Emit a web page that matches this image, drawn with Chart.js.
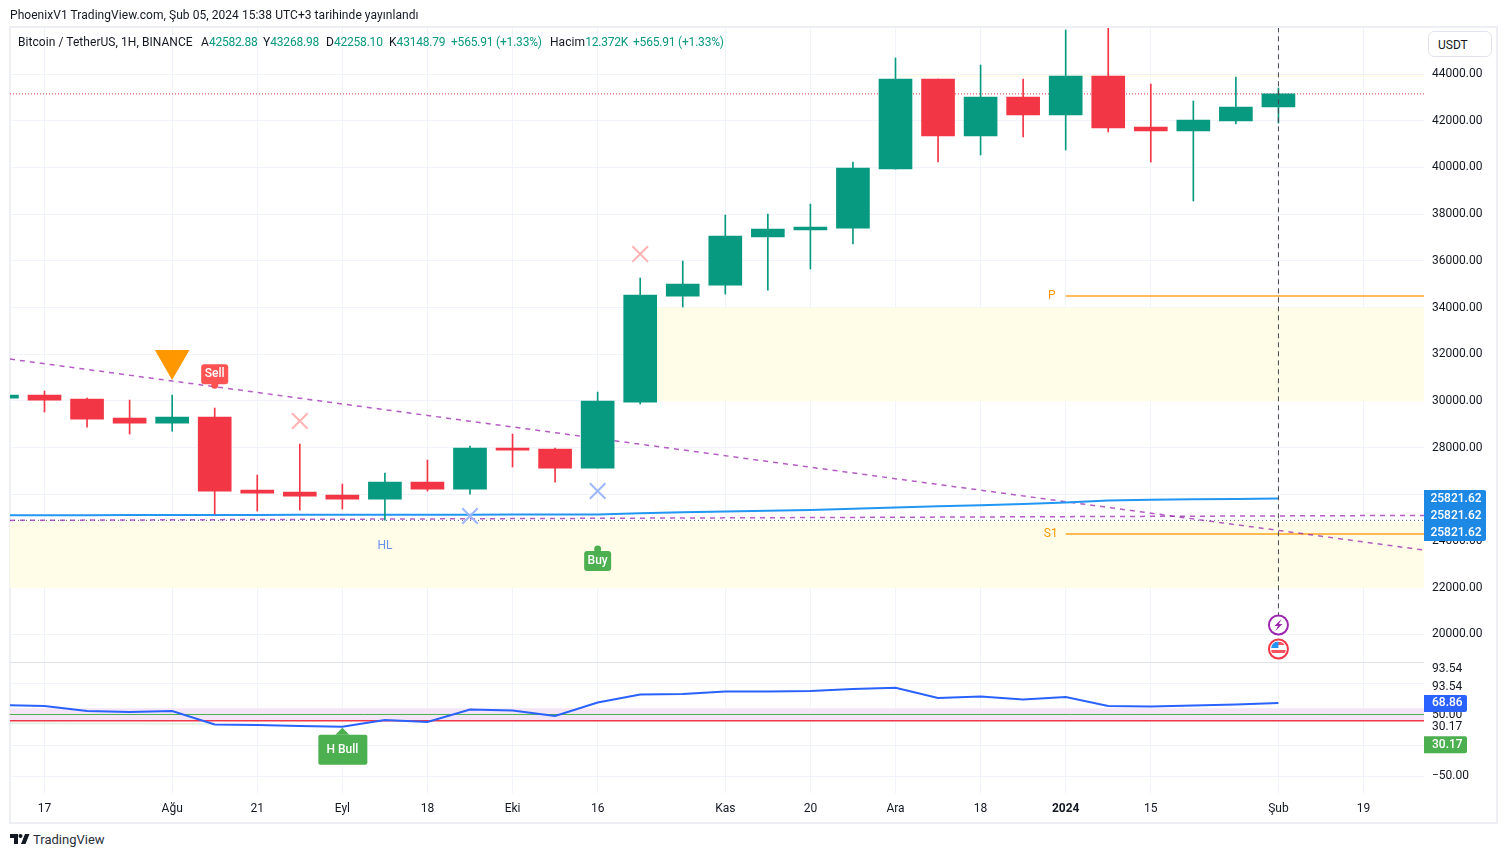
<!DOCTYPE html>
<html>
<head>
<meta charset="utf-8">
<title>BTCUSDT</title>
<script src="https://cdn.jsdelivr.net/npm/chart.js@4/dist/chart.umd.min.js"></script>
<style>
  html, body { margin: 0; padding: 0; background: #fff; width: 1506px; height: 857px; overflow: hidden; }
  body { position: relative; font-family: Roboto, sans-serif; font-size: 12px; color: #131722; }
  .abs { position: absolute; white-space: nowrap; z-index: 2; }
  #frame { left: 9px; top: 26px; width: 1485px; height: 794px; border: 2px solid #eeeff5; z-index: 0; }
  #published { left: 10px; top: 8px; letter-spacing: 0.055px; }
  .legend { top: 35px; font-size: 12px; letter-spacing: 0.06px; }
  .up { color: #089981; letter-spacing: -0.2px; }
  #unit { left: 1428px; top: 31px; width: 64px; height: 26px; line-height: 26px; border: 1px solid #e0e3eb; border-radius: 6px; box-sizing: border-box; padding-left: 9px; background: #fff; }
  #brand { left: 33px; top: 832px; font-size: 13px; color: #2a2e39; }
  #logo { left: 10px; top: 834px; }
  canvas { position: absolute; }
</style>
</head>
<body>
<div class="abs" id="frame"></div>
<div class="abs" id="published">PhoenixV1 TradingView.com, Şub 05, 2024 15:38 UTC+3 tarihinde yayınlandı</div>
<div class="abs legend" style="left:18px">Bitcoin / TetherUS, 1H, BINANCE</div>
<div class="abs legend" style="left:201px">A<span class="up">42582.88</span></div>
<div class="abs legend" style="left:263px">Y<span class="up">43268.98</span></div>
<div class="abs legend" style="left:326px">D<span class="up">42258.10</span></div>
<div class="abs legend" style="left:389px">K<span class="up">43148.79</span></div>
<div class="abs legend up" style="left:451px">+565.91 (+1.33%)</div>
<div class="abs legend" style="left:550px">Hacim<span class="up">12.372K</span></div>
<div class="abs legend up" style="left:633px">+565.91 (+1.33%)</div>
<!-- canvas is 20px bigger on left/top/bottom: the big triangle marker makes Chart.js reserve that overflow -->
<div style="position:absolute;left:-10px;top:8px;width:1506px;height:674px"><canvas id="price"></canvas></div>
<div style="position:absolute;left:10px;top:662px;width:1414px;height:1px;background:#e0e3eb"></div>
<div style="position:absolute;left:10px;top:663px;width:1486px;height:159px"><canvas id="rsi"></canvas></div>
<div class="abs" id="unit">USDT</div>
<svg class="abs" id="logo" width="20" height="11" viewBox="0 0 20 11"><path d="M0 0h8v10H4V4H0z" fill="#131722"/><circle cx="10.5" cy="2" r="2" fill="#131722"/><path d="M15 0h4.5l-4 10H11z" fill="#131722"/></svg>
<div class="abs" id="brand">TradingView</div>

<script>
// bar index of each candle, plot runs from xMin to xMax
const xMin = 0.189;
const xMax = 33.421;

const opens = [30124, 30253, 30081, 29267, 29053, 29310, 26184, 26098, 25970, 25799, 26526, 26227, 27982, 27939, 27126, 29953, 34492, 34963, 37019, 37319, 37404, 39931, 43786, 41345, 43015, 42244, 43914, 41730, 41559, 41987, 42587];
const closes = [30253, 30038, 29225, 29053, 29310, 26141, 26056, 25927, 25799, 26526, 26227, 27982, 27897, 27126, 29996, 34535, 35006, 37062, 37362, 37447, 39974, 43786, 41345, 43015, 42244, 43914, 41687, 41559, 42030, 42587, 43148.79];
const highs = [30253, 30424, 30124, 30038, 30253, 29696, 26826, 28154, 26441, 26912, 27469, 28068, 28582, 27982, 30381, 35263, 35991, 37961, 38004, 38432, 40231, 44685, 43786, 44385, 43786, 45884, 46013, 43572, 42844, 43872, 43400];
const lows = [30124, 29524, 28882, 28582, 28711, 25156, 25284, 25327, 25370, 24899, 26141, 26013, 27169, 26526, 27126, 29867, 34021, 34578, 34749, 35649, 36720, 39931, 40231, 40531, 41302, 40745, 41516, 40231, 38561, 41859, 41900];
const maLine = [25100, 25105, 25110, 25112, 25115, 25118, 25120, 25122, 25125, 25127, 25130, 25132, 25134, 25137, 25140, 25190, 25230, 25270, 25300, 25330, 25380, 25440, 25490, 25530, 25590, 25650, 25740, 25765, 25790, 25805, 25821.62];
const rsiLine = [65.4, 63.8, 55.7, 54.1, 55.7, 33.7, 32.9, 31.3, 30.17, 41.1, 37.8, 58.1, 56.5, 47.6, 69.5, 82.5, 83.3, 87.4, 87.4, 88.2, 91.5, 93.54, 76.8, 79.3, 74.4, 78.5, 63.8, 63, 64.6, 66.3, 68.86];
const rsiFaint = [36, 35.8, 35.5, 35.2, 35, 34.7];

const lastPrice = 43148.79;
const priceTicks = [20000, 22000, 24000, 26000, 28000, 30000, 32000, 34000, 36000, 38000, 40000, 42000, 44000];
const timeTicks = [1, 4, 6, 8, 10, 12, 14, 17, 19, 21, 23, 25, 27, 30, 32];
const timeLabels = ['17', 'Ağu', '21', 'Eyl', '18', 'Eki', '16', 'Kas', '20', 'Ara', '18', '2024', '15', 'Şub', '19'];
const rsiTicks = [100, 50, 0, -50];
const rsiTickLabels = ['', '', '', '−50.00'];

const trendLine = [31794, 23614];
const flatLine = [24886, 25100];
const dottedLevel = 24886;
const supplyZone = [34000, 30000];
const demandZone = [24835, 21987];
const topZone = [43950, 43870];
const pivotP = 34492;
const pivotS1 = 24300;
const sellMark = [5, 30625];
const buyMark = [14, 23830];
const triangleMarks = [[4, 31751]];
const pinkCrosses = [[7, 29142], [15, 36290]];
const blueCrosses = [[11, 25074], [14, 26145]];
const hlMark = [9, 23790];
const priceBoxes = ['25821.62', '25821.62', '25821.62'];
const rsiLabels = ['93.54', '93.54', '50.00', '30.17'];
const rsiLabelValues = [93.54, 93.54, 50, 30.17];
const bullMark = [8, 30.17];
const rsiBlueLabel = '68.86';
const rsiGreenLabel = '30.17';

const GREEN = '#089981';
const RED = '#f23645';
const GRID = '#f0f3fa';
const TEXT = '#131722';
const ZONE = '#fffde7';
const FONT = 'Roboto, sans-serif';

const candleColors = closes.map((c, i) => (c >= opens[i] ? GREEN : RED));
const hline = (y, from = xMin, to = xMax) => [{ x: from, y: y }, { x: to, y: y }];
const lineSet = (data, color, width, dash, order) => ({
  type: 'line', data, borderColor: color, borderWidth: width, borderDash: dash,
  pointRadius: 0, fill: false, tension: 0, order
});
const zoneSet = (data, fill, color) => ({
  type: 'line', data, borderWidth: 0, pointRadius: 0, tension: 0, fill, backgroundColor: color, order: 20
});
const markSet = (points, style, color, radius, rotation, border) => ({
  type: 'scatter',
  data: points.map(p => ({ x: p[0], y: p[1] })),
  pointStyle: style, pointRadius: radius, pointRotation: rotation,
  borderColor: color, backgroundColor: color, borderWidth: border, order: 1
});

function roundBox(ctx, x, y, w, h, r, color) {
  ctx.fillStyle = color;
  ctx.beginPath();
  ctx.roundRect(x, y, w, h, r);
  ctx.fill();
}

function boxLabel(ctx, text, x, y, color) {
  ctx.fillStyle = color;
  ctx.fillText(text, x, y);
}

const priceOverlay = {
  id: 'priceOverlay',
  afterDraw(chart) {
    const { ctx, scales: { x, y }, chartArea } = chart;
    ctx.save();
    ctx.textBaseline = 'middle';
    ctx.textAlign = 'center';

    // Sell flag
    let px = x.getPixelForValue(sellMark[0]);
    let py = y.getPixelForValue(sellMark[1]);
    roundBox(ctx, px - 13.5, py - 22, 27, 20, 3, '#ff5252');
    ctx.beginPath(); ctx.arc(px, py - 1, 3.5, 0, Math.PI * 2); ctx.fill();
    ctx.font = '500 12px ' + FONT;
    boxLabel(ctx, 'Sell', px, py - 12, '#ffffff');

    // Buy flag
    px = x.getPixelForValue(buyMark[0]);
    py = y.getPixelForValue(buyMark[1]);
    roundBox(ctx, px - 13.5, py + 6, 27, 20, 3, '#4caf50');
    ctx.beginPath(); ctx.arc(px, py + 4, 3.5, 0, Math.PI * 2); ctx.fill();
    boxLabel(ctx, 'Buy', px, py + 16, '#ffffff');

    // HL text
    ctx.font = '12px ' + FONT;
    boxLabel(ctx, 'HL', x.getPixelForValue(hlMark[0]), y.getPixelForValue(hlMark[1]), '#6f8fe8');

    // pivot names
    boxLabel(ctx, 'P', x.getPixelForValue(25) - 14, y.getPixelForValue(pivotP), '#ff9800');
    boxLabel(ctx, 'S1', x.getPixelForValue(25) - 15, y.getPixelForValue(pivotS1), '#ff9800');

    // event icons on the last bar
    px = x.getPixelForValue(30);
    const iconY = chartArea.bottom - 37;
    ctx.lineWidth = 2;
    ctx.strokeStyle = '#9c27b0';
    ctx.fillStyle = '#ffffff';
    ctx.beginPath(); ctx.arc(px, iconY, 9.5, 0, Math.PI * 2); ctx.fill(); ctx.stroke();
    ctx.fillStyle = '#9c27b0';
    ctx.beginPath();
    ctx.moveTo(px + 3, iconY - 6); ctx.lineTo(px - 4, iconY + 1); ctx.lineTo(px - 0.5, iconY + 1);
    ctx.lineTo(px - 3, iconY + 6); ctx.lineTo(px + 4, iconY - 1); ctx.lineTo(px + 0.5, iconY - 1);
    ctx.closePath(); ctx.fill();
    const flagY = iconY + 24;
    ctx.strokeStyle = RED;
    ctx.fillStyle = '#ffffff';
    ctx.beginPath(); ctx.arc(px, flagY, 9.5, 0, Math.PI * 2); ctx.fill(); ctx.stroke();
    ctx.save();
    ctx.beginPath(); ctx.arc(px, flagY, 7.5, 0, Math.PI * 2); ctx.clip();
    ctx.fillStyle = '#f7525f';
    ctx.fillRect(px - 8, flagY - 7, 16, 3);
    ctx.fillRect(px - 8, flagY + 1, 16, 3);
    ctx.fillStyle = '#2196f3';
    ctx.fillRect(px - 8, flagY - 8, 8, 7);
    ctx.restore();

    // last value boxes on the axis
    ctx.font = '500 12px ' + FONT;
    const boxLeft = chartArea.right;
    const boxTop = y.getPixelForValue(maLine[30]) - 8.5;
    roundBox(ctx, boxLeft, boxTop, 62, 51, [0, 2, 2, 0], '#1e88e5');
    priceBoxes.forEach((text, i) => {
      boxLabel(ctx, text, boxLeft + 32, boxTop + 8.5 + i * 17, '#ffffff');
    });
    ctx.restore();
  }
};

const rsiOverlay = {
  id: 'rsiOverlay',
  afterDraw(chart) {
    const { ctx, scales: { x, y }, chartArea } = chart;
    ctx.save();
    ctx.textBaseline = 'middle';
    ctx.textAlign = 'left';
    const left = chartArea.right;

    // plain labels moved apart from each other as the axis does
    ctx.font = '12px ' + FONT;
    const shifted = [-18.5, -1, 1, 0.5];
    rsiLabels.forEach((text, i) => {
      boxLabel(ctx, text, left + 8, y.getPixelForValue(rsiLabelValues[i]) + shifted[i], TEXT);
    });

    ctx.font = '500 12px ' + FONT;
    const blueY = y.getPixelForValue(rsiLine[30]) + 0.5;
    roundBox(ctx, left, blueY - 8.5, 43, 17, [0, 2, 2, 0], '#2962ff');
    boxLabel(ctx, rsiBlueLabel, left + 8, blueY, '#ffffff');
    const greenY = y.getPixelForValue(30.17) + 18;
    roundBox(ctx, left, greenY - 8.5, 43, 17, [0, 2, 2, 0], '#4caf50');
    boxLabel(ctx, rsiGreenLabel, left + 8, greenY, '#ffffff');

    // H Bull flag
    const px = x.getPixelForValue(bullMark[0]);
    const py = y.getPixelForValue(bullMark[1]) + 1;
    ctx.fillStyle = '#4caf50';
    ctx.beginPath();
    ctx.moveTo(px, py); ctx.lineTo(px + 7, py + 7); ctx.lineTo(px - 7, py + 7);
    ctx.closePath(); ctx.fill();
    roundBox(ctx, px - 24, py + 7, 49, 30, 2, '#4caf50');
    ctx.textAlign = 'center';
    boxLabel(ctx, 'H Bull', px, py + 22, '#ffffff');
    ctx.restore();
  }
};

const noPadding = scale => {
  scale.paddingTop = 0;
  scale.paddingBottom = 0;
  scale.paddingLeft = 0;
  scale.paddingRight = 0;
};

const timeScale = (showLabels) => ({
  type: 'linear',
  offset: false,
  min: xMin,
  max: xMax,
  afterBuildTicks: scale => { scale.ticks = timeTicks.map(v => ({ value: v })); },
  afterFit: scale => { scale.height = showLabels ? 29 : 0; noPadding(scale); },
  border: { display: false },
  grid: { color: GRID, drawTicks: false, offset: false },
  ticks: {
    display: showLabels,
    maxRotation: 0,
    autoSkip: false,
    padding: 9,
    color: TEXT,
    font: ctx => ({ family: FONT, size: 12, weight: ctx.index === 11 ? 'bold' : 'normal' }),
    callback: (value, index) => timeLabels[index]
  }
});

const valueScale = (min, max, ticks, callback) => ({
  type: 'linear',
  position: 'right',
  offset: false,
  min,
  max,
  afterBuildTicks: scale => { scale.ticks = ticks.map(v => ({ value: v })); },
  afterFit: scale => { scale.width = 72; noPadding(scale); },
  border: { display: false },
  grid: { color: GRID, drawTicks: false },
  ticks: { padding: 8, color: TEXT, autoSkip: false, font: { family: FONT, size: 12 }, callback }
});

const sharedOptions = {
  responsive: true,
  maintainAspectRatio: false,
  animation: false,
  layout: { padding: 0 },
  plugins: { legend: { display: false }, tooltip: { enabled: false } }
};

new Chart(document.getElementById('price'), {
  data: {
    datasets: [
      zoneSet(hline(supplyZone[0], 15), '+1', ZONE),
      zoneSet(hline(supplyZone[1], 15), false, ZONE),
      zoneSet(hline(demandZone[0]), '+1', ZONE),
      zoneSet(hline(demandZone[1]), false, ZONE),
      zoneSet(hline(topZone[0], 21), '+1', ZONE),
      zoneSet(hline(topZone[1], 21), false, ZONE),
      lineSet([{ x: xMin, y: trendLine[0] }, { x: xMax, y: trendLine[1] }], 'rgba(156,39,176,0.75)', 1.5, [5, 5], 8),
      lineSet([{ x: xMin, y: flatLine[0] }, { x: xMax, y: flatLine[1] }], 'rgba(156,39,176,0.75)', 1.5, [5, 5], 8),
      lineSet(hline(dottedLevel), '#555a66', 1, [1, 3], 8),
      lineSet(hline(lastPrice), '#f23645', 1, [1, 2], 8),
      lineSet(hline(pivotP, 25), 'rgba(255,152,0,0.65)', 2, [], 8),
      lineSet(hline(pivotS1, 25), 'rgba(255,152,0,0.65)', 2, [], 8),
      lineSet(maLine.map((v, i) => ({ x: i, y: v })), '#2196f3', 2, [], 7),
      {
        type: 'bar',
        data: highs.map((h, i) => ({ x: i, y: [lows[i], h] })),
        backgroundColor: candleColors,
        barThickness: 1,
        grouped: false,
        order: 4
      },
      {
        type: 'bar',
        data: opens.map((o, i) => ({ x: i, y: [Math.min(o, closes[i]), Math.max(o, closes[i])] })),
        backgroundColor: candleColors,
        barThickness: 33,
        grouped: false,
        order: 3
      },
      lineSet([{ x: 30, y: 46000 }, { x: 30, y: 19900 }], '#434651', 1, [5, 4], 2),
      markSet(triangleMarks, 'triangle', '#ff9800', 20, 180, 0),
      markSet(pinkCrosses, 'crossRot', '#ffb2b2', 11, 0, 2),
      markSet(blueCrosses, 'crossRot', '#9db8ff', 11, 0, 2)
    ]
  },
  options: {
    ...sharedOptions,
    scales: {
      x: timeScale(false),
      // 26000 sits behind the value boxes, so it has no label
      y: valueScale(18822, 45970, priceTicks, v => (v === 26000 ? '' : v.toFixed(2)))
    }
  },
  plugins: [priceOverlay]
});

new Chart(document.getElementById('rsi'), {
  data: {
    datasets: [
      zoneSet(hline(60), '+1', '#f3e5f5'),
      zoneSet(hline(40), false, '#f3e5f5'),
      lineSet(hline(50), '#4caf50', 1, [], 6),
      lineSet(hline(40), RED, 1.5, [], 6),
      lineSet(rsiFaint.map((v, i) => ({ x: i, y: v })), 'rgba(76,175,80,0.15)', 2, [], 7),
      lineSet(rsiLine.map((v, i) => ({ x: i, y: v })), '#2962ff', 2, [], 3)
    ]
  },
  options: {
    ...sharedOptions,
    scales: {
      x: timeScale(true),
      y: valueScale(-77.6, 133.7, rsiTicks, (v, i) => rsiTickLabels[i])
    }
  },
  plugins: [rsiOverlay]
});
</script>
</body>
</html>
